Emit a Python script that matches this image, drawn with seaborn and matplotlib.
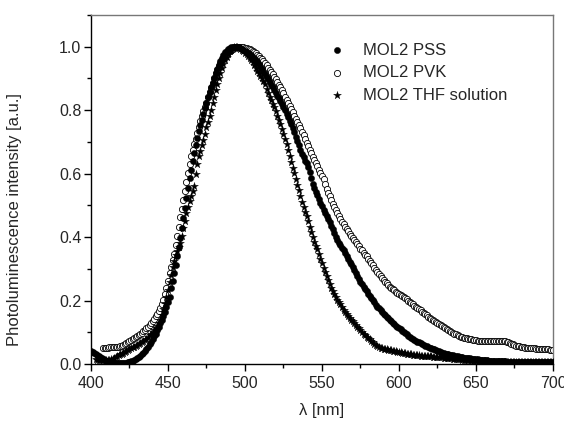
import numpy as np
import pandas as pd
import matplotlib
matplotlib.use("Agg")
import matplotlib.pyplot as plt
import seaborn as sns
from matplotlib.ticker import MultipleLocator

# ---------------- data (1 nm steps) ----------------
pss_start = 400
pss_values = [
    0.040,0.037,0.034,0.031,0.028,0.025,0.022,0.019,0.016,0.013,
    0.011,0.009,0.007,0.005,0.004,0.003,0.003,0.003,0.003,0.002,
    0.002,0.002,0.003,0.004,0.005,0.006,0.008,0.010,0.012,0.015,
    0.018,0.022,0.026,0.031,0.036,0.042,0.048,0.055,0.062,0.070,
    0.078,0.087,0.096,0.106,0.117,0.128,0.140,0.152,0.165,0.179,
    0.195,0.212,0.238,0.262,0.288,0.313,0.340,0.368,0.398,0.428,
    0.460,0.492,0.524,0.555,0.587,0.613,0.640,0.665,0.690,0.712,
    0.733,0.752,0.770,0.789,0.806,0.823,0.840,0.856,0.872,0.887,
    0.902,0.916,0.930,0.943,0.955,0.966,0.975,0.982,0.988,0.993,
    0.996,0.998,1.000,1.000,1.000,0.999,0.998,0.996,0.993,0.990,
    0.987,0.984,0.980,0.976,0.972,0.967,0.962,0.957,0.951,0.944,
    0.937,0.929,0.921,0.913,0.905,0.897,0.889,0.880,0.872,0.863,
    0.855,0.846,0.838,0.829,0.819,0.809,0.799,0.788,0.777,0.766,
    0.755,0.743,0.731,0.717,0.703,0.689,0.675,0.663,0.652,0.641,
    0.632,0.620,0.604,0.587,0.568,0.556,0.543,0.532,0.520,0.509,
    0.497,0.486,0.475,0.466,0.456,0.447,0.436,0.424,0.413,0.401,
    0.391,0.382,0.374,0.366,0.358,0.350,0.341,0.332,0.323,0.314,
    0.305,0.296,0.287,0.278,0.268,0.259,0.252,0.244,0.236,0.229,
    0.222,0.215,0.208,0.201,0.194,0.187,0.180,0.175,0.170,0.164,
    0.159,0.154,0.149,0.145,0.140,0.135,0.130,0.126,0.121,0.117,
    0.113,0.109,0.105,0.101,0.097,0.093,0.089,0.086,0.082,0.079,
    0.076,0.073,0.070,0.068,0.065,0.063,0.060,0.058,0.056,0.053,
    0.051,0.050,0.048,0.046,0.044,0.042,0.040,0.038,0.036,0.034,
    0.032,0.031,0.030,0.029,0.028,0.027,0.026,0.025,0.024,0.023,
    0.022,0.021,0.020,0.020,0.019,0.019,0.018,0.017,0.017,0.016,
    0.015,0.015,0.014,0.014,0.013,0.013,0.012,0.012,0.011,0.011,
    0.010,0.010,0.010,0.009,0.009,0.009,0.008,0.008,0.008,0.008,
    0.007,0.007,0.007,0.007,0.007,0.007,0.006,0.006,0.006,0.006,
    0.006,0.006,0.006,0.006,0.006,0.006,0.005,0.005,0.005,0.005,
    0.005,0.005,0.005,0.005,0.005,0.005,0.005,0.005,0.005,0.005,
    0.005,
]

pvk_start = 408
pvk_values = [
    0.050,0.051,
    0.052,0.052,0.053,0.053,0.053,0.054,0.054,0.054,0.055,0.056,
    0.058,0.061,0.064,0.067,0.070,0.073,0.076,0.079,0.082,0.085,
    0.088,0.091,0.095,0.099,0.103,0.107,0.112,0.117,0.123,0.129,
    0.135,0.142,0.150,0.158,0.167,0.177,0.189,0.203,0.220,0.240,
    0.262,0.286,0.306,0.327,0.347,0.375,0.405,0.433,0.462,0.490,
    0.516,0.546,0.575,0.603,0.630,0.655,0.675,0.692,0.708,0.728,
    0.748,0.766,0.781,0.796,0.810,0.824,0.840,0.856,0.871,0.887,
    0.902,0.916,0.928,0.939,0.949,0.957,0.965,0.972,0.978,0.983,
    0.987,0.991,0.994,0.997,0.999,1.000,1.000,1.000,0.999,0.998,
    0.997,0.996,0.994,0.992,0.990,0.987,0.983,0.979,0.975,0.970,
    0.965,0.960,0.954,0.948,0.941,0.934,0.927,0.920,0.913,0.905,
    0.897,0.889,0.880,0.872,0.863,0.853,0.843,0.833,0.823,0.813,
    0.803,0.793,0.783,0.773,0.763,0.753,0.743,0.732,0.721,0.709,
    0.698,0.687,0.676,0.665,0.654,0.643,0.633,0.623,0.613,0.603,
    0.593,0.583,0.568,0.553,0.540,0.528,0.516,0.505,0.494,0.484,
    0.475,0.466,0.457,0.449,0.441,0.433,0.425,0.418,0.411,0.404,
    0.397,0.391,0.384,0.377,0.371,0.364,0.358,0.351,0.345,0.339,
    0.332,0.325,0.318,0.311,0.304,0.297,0.290,0.283,0.277,0.271,
    0.265,0.259,0.254,0.249,0.244,0.240,0.236,0.232,0.228,0.224,
    0.221,0.218,0.215,0.212,0.208,0.204,0.200,0.196,0.192,0.188,
    0.184,0.181,0.177,0.173,0.169,0.165,0.161,0.157,0.153,0.149,
    0.146,0.142,0.138,0.135,0.132,0.128,0.125,0.122,0.119,0.116,
    0.113,0.110,0.107,0.104,0.101,0.098,0.095,0.093,0.090,0.088,
    0.086,0.084,0.083,0.082,0.081,0.080,0.079,0.078,0.077,0.076,
    0.075,0.074,0.073,0.073,0.072,0.072,0.071,0.071,0.071,0.071,
    0.072,0.073,0.073,0.074,0.074,0.074,0.074,0.073,0.072,0.071,
    0.070,0.068,0.066,0.064,0.062,0.060,0.058,0.057,0.056,0.055,
    0.054,0.053,0.052,0.051,0.050,0.050,0.049,0.049,0.049,0.048,
    0.048,0.048,0.048,0.047,0.047,0.047,0.046,0.046,0.045,0.045,
    0.044,
]

thf_start = 403
thf_values = [
    0.015,0.014,0.013,0.013,0.012,0.012,0.012,
    0.012,0.013,0.014,0.015,0.017,0.019,0.021,0.024,0.027,0.030,
    0.033,0.036,0.039,0.042,0.045,0.048,0.051,0.053,0.055,0.057,
    0.060,0.062,0.065,0.068,0.071,0.075,0.080,0.085,0.090,0.096,
    0.102,0.108,0.114,0.121,0.130,0.140,0.155,0.172,0.192,0.212,
    0.233,0.258,0.282,0.305,0.326,0.344,0.356,0.368,0.381,0.404,
    0.428,0.452,0.475,0.496,0.515,0.530,0.545,0.560,0.598,0.630,
    0.655,0.672,0.690,0.706,0.726,0.746,0.764,0.782,0.802,0.822,
    0.842,0.864,0.884,0.902,0.918,0.932,0.946,0.958,0.968,0.977,
    0.985,0.991,0.996,0.999,1.000,0.999,0.997,0.994,0.990,0.986,
    0.981,0.976,0.970,0.964,0.958,0.951,0.943,0.934,0.925,0.916,
    0.908,0.900,0.893,0.882,0.868,0.855,0.843,0.832,0.821,0.810,
    0.797,0.783,0.769,0.755,0.740,0.725,0.710,0.692,0.674,0.655,
    0.637,0.619,0.601,0.583,0.565,0.547,0.528,0.511,0.495,0.480,
    0.466,0.450,0.433,0.416,0.400,0.386,0.373,0.361,0.347,0.332,
    0.317,0.303,0.290,0.277,0.265,0.253,0.241,0.230,0.220,0.211,
    0.203,0.196,0.189,0.180,0.171,0.163,0.157,0.151,0.145,0.140,
    0.134,0.128,0.123,0.118,0.113,0.107,0.101,0.096,0.091,0.086,
    0.082,0.078,0.073,0.068,0.064,0.060,0.057,0.054,0.051,0.049,
    0.048,0.047,0.046,0.045,0.044,0.043,0.042,0.041,0.040,0.039,
    0.038,0.037,0.036,0.035,0.034,0.033,0.032,0.031,0.030,0.029,
    0.028,0.028,0.027,0.027,0.026,0.026,0.025,0.025,0.025,0.024,
    0.024,0.024,0.023,0.023,0.023,0.022,0.022,0.021,0.021,0.020,
    0.020,0.019,0.019,0.018,0.018,0.017,0.017,0.016,0.016,0.015,
    0.015,0.014,0.014,0.013,0.013,0.012,0.012,0.011,0.011,0.010,
    0.010,0.010,0.009,0.009,0.009,0.008,0.008,0.008,0.008,0.007,
    0.007,0.007,0.007,0.007,0.007,0.006,0.006,0.006,0.006,0.006,
    0.006,0.006,0.006,0.006,0.006,0.006,0.006,0.006,0.006,0.006,
    0.005,0.005,0.005,0.005,0.005,0.005,0.005,0.005,0.005,0.005,
    0.005,0.005,0.005,0.005,0.005,0.005,0.005,0.005,0.005,0.005,
    0.005,
]

series_labels = ["MOL2 PSS", "MOL2 PVK", "MOL2 THF solution"]
x_label = "\u03bb [nm]"
y_label = "Photoluminescence intensity [a.u.]"

def frame(start, vals, label):
    return pd.DataFrame({"wavelength": start + np.arange(len(vals)),
                         "intensity": vals, "series": label})

df_pss = frame(pss_start, pss_values, series_labels[0])
df_pvk = frame(pvk_start, pvk_values, series_labels[1])
df_thf = frame(thf_start, thf_values, series_labels[2])

# ---------------- plotting ----------------
sns.set_theme(style="ticks")
plt.rcParams["font.family"] = ["Liberation Sans", "DejaVu Sans"]

fig = plt.figure(figsize=(5.64, 4.24), dpi=100)
ax = fig.add_axes([91/564, 1 - 364/424, (553-91)/564, (364-15)/424])

sns.scatterplot(data=df_pss, x="wavelength", y="intensity", ax=ax,
                marker="o", s=20, color="black", edgecolor="black",
                linewidth=0.3, label=series_labels[0], zorder=3)
sns.scatterplot(data=df_pvk, x="wavelength", y="intensity", ax=ax,
                marker="o", s=20, facecolor="white", edgecolor="black",
                linewidth=0.6, label=series_labels[1], zorder=2)
sns.scatterplot(data=df_thf, x="wavelength", y="intensity", ax=ax,
                marker="*", s=36, color="black", edgecolor="black",
                linewidth=0.2, label=series_labels[2], zorder=4)

ax.set_xlim(400, 700)
ax.set_ylim(0, 1.1)
ax.xaxis.set_major_locator(MultipleLocator(50))
ax.xaxis.set_minor_locator(MultipleLocator(25))
ax.yaxis.set_minor_locator(MultipleLocator(0.1))
ax.set_yticks(np.arange(0, 1.01, 0.2))
ax.set_yticklabels([f"{v:.1f}" for v in np.arange(0, 1.01, 0.2)])
ax.tick_params(axis="both", which="major", direction="out", length=5,
               width=1, labelsize=11.5, color="black")
ax.tick_params(axis="x", which="major", pad=4)
ax.tick_params(axis="y", which="major", pad=2)
ax.tick_params(axis="both", which="minor", direction="out", length=3,
               width=1, color="black")
ax.tick_params(top=False, right=False)

for side in ["left", "bottom"]:
    ax.spines[side].set_color("black")
    ax.spines[side].set_linewidth(1.0)
for side in ["top", "right"]:
    ax.spines[side].set_visible(True)
    ax.spines[side].set_color("#777777")
    ax.spines[side].set_linewidth(1.0)

ax.set_xlabel(x_label, fontsize=12)
ax.xaxis.set_label_coords(0.5, -(410 - 364) / 349, transform=ax.transAxes)
ax.xaxis.label.set_va("center")
ax.set_ylabel(y_label, fontsize=12)
ax.yaxis.set_label_coords(-(91 - 15) / 462, (364 - 220) / 349,
                          transform=ax.transAxes)
ax.yaxis.label.set_va("center")

leg = ax.legend(loc="upper left", bbox_to_anchor=(0.481, 0.94), frameon=False,
                fontsize=12, handletextpad=0.6, labelspacing=0.45,
                markerscale=1.0, borderaxespad=0)

fig.savefig("out.png", dpi=100)
